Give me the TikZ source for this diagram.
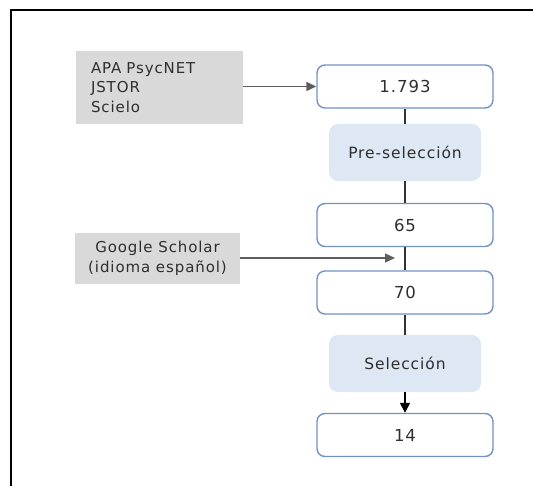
\documentclass[tikz,border=0pt]{standalone}
\usepackage{fontspec}
\setmainfont{DejaVu Sans}[LetterSpace=6]
\usetikzlibrary{arrows.meta}
\definecolor{srcgray}{HTML}{D9D9D9}
\definecolor{boxblue}{HTML}{7092C6}
\definecolor{stepfill}{HTML}{DEE8F4}
\definecolor{txt}{HTML}{2E2E2E}
\definecolor{arrgray}{HTML}{5E5E5E}
\tikzset{
  srcbox/.style={fill=srcgray, draw=none, inner sep=0pt, font=\fontsize{15}{19.5}\selectfont, text=txt},
  numbox/.style={draw=boxblue, line width=1.4pt, fill=white, rounded corners=8pt, minimum width=176pt, minimum height=43pt, inner sep=0pt, font=\fontsize{16.5}{18}\selectfont, text=txt},
  stepbox/.style={fill=stepfill, draw=none, rounded corners=9pt, minimum width=152pt, minimum height=57pt, inner sep=0pt, font=\fontsize{15.5}{18}\selectfont, text=txt},
  grayarrow/.style={draw=arrgray, line width=1.4pt, -{Triangle[length=10pt,width=9pt]}, arrgray},
  link/.style={draw=black!80, line width=1.4pt},
  blackarrow/.style={draw=black, line width=1.4pt, -{Triangle[length=10pt,width=10pt]}}
}
\begin{document}
\begin{tikzpicture}[x=1pt,y=-1pt]
\useasboundingbox (0,0) rectangle (533,486);
% outer frame (only top and left edges visible)
\draw[line width=2.2pt, black] (533,10) -- (11,10) -- (11,486);

\node[srcbox, minimum width=167pt, minimum height=73pt, text width=137pt, align=left] (src1) at (159.5,87.5)
  {APA PsycNET\\JSTOR\\Scielo};
\node[numbox] (n1) at (405,86.5) {1.793};
\node[stepbox] (pre) at (405,152.5) {Pre-selección};
\node[numbox] (n2) at (405,225) {65};
\node[srcbox, minimum width=165pt, minimum height=51pt, align=center] (src2) at (157.5,258.5)
  {Google Scholar\\(idioma español)};
\node[numbox] (n3) at (405,292.5) {70};
\node[stepbox] (sel) at (405,363.5) {Selección};
\node[numbox] (n4) at (405,435) {14};

\coordinate (join) at (395,258);

\draw[grayarrow] (src1.east |- n1.west) -- (n1.west);
\draw[link] (n1.south) -- (pre.north);
\draw[link] (pre.south) -- (n2.north);
\draw[link] (n2.south) -- (n3.north);
\draw[grayarrow] (src2.east |- join) -- (join);
\draw[link] (n3.south) -- (sel.north);
\draw[blackarrow] (sel.south) -- (n4.north);
\end{tikzpicture}
\end{document}
